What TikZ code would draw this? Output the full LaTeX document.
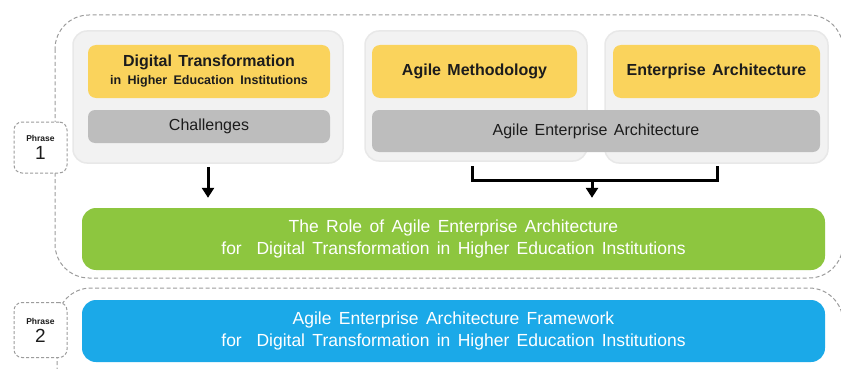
\documentclass[tikz,border=0pt]{standalone}
\usepackage{fontspec}
\setmainfont{Liberation Sans}
\usetikzlibrary{arrows.meta,calc}
\definecolor{ylw}{HTML}{FAD35C}
\definecolor{gry}{HTML}{BDBDBD}
\definecolor{grn}{HTML}{8DC63F}
\definecolor{blu}{HTML}{1BA9E8}
\definecolor{pnl}{HTML}{F2F2F2}
\definecolor{pnledge}{HTML}{E8E8E8}
\definecolor{dsh}{HTML}{9C9C9C}
\definecolor{txt}{HTML}{1C1C1C}
\newcommand\wordsp[1]{\spaceskip=#1em\relax}
\begin{document}
\begin{tikzpicture}[x=1pt,y=-1pt,
  panel/.style={fill=pnl,draw=pnledge,line width=1.5pt,rounded corners=14pt,inner sep=0pt},
  ybox/.style={fill=ylw,rounded corners=8pt,inner sep=0pt,minimum height=53pt,align=center,text=txt,
    font=\fontsize{16}{20}\selectfont\bfseries\wordsp{0.4}},
  gbox/.style={fill=gry,rounded corners=7pt,inner sep=0pt,align=center,text=txt,
    font=\fontsize{16}{19}\selectfont\wordsp{0.4}},
  bigbox/.style={rounded corners=14pt,inner sep=0pt,minimum width=743pt,minimum height=62pt,align=center,text=white,
    font=\fontsize{17.5}{22}\selectfont\wordsp{0.42}},
  phasebox/.style={fill=white,draw=dsh,dash pattern=on 3pt off 2pt,line width=1pt,rounded corners=8pt,
    minimum width=53pt,inner sep=0pt,align=center,text=txt,font=\fontsize{19}{18}\selectfont},
  region/.style={draw=dsh,line width=1pt,dash pattern=on 4pt off 2.5pt,rounded corners=34pt},
  arr/.style={line width=3pt,-{Triangle[length=10pt,width=12pt]}},
  brk/.style={line width=3pt}
]
\useasboundingbox (0,0) rectangle (841,369);
\clip (0,0) rectangle (841,369);
\fill[white] (0,0) rectangle (841,369);

% dashed phase regions
\draw[region] (55,15) rectangle (843,278);
\draw[region] (57,288) rectangle (843,420);

% phase labels
\node[phasebox,minimum height=51pt] (ph1) at (40.5,147.5)
  {{\fontsize{8.5}{10}\selectfont\bfseries Phrase}\\1};
\node[phasebox,minimum height=55pt] (ph2) at (40.5,330)
  {{\fontsize{8.5}{10}\selectfont\bfseries Phrase}\\2};

% light panels
\node[panel,minimum width=270pt,minimum height=132pt] (lp) at (208,97) {};
\node[panel,minimum width=222pt,minimum height=130pt] (mp) at (476,96) {};
\node[panel,minimum width=223pt,minimum height=132pt] (rp) at (716.5,97) {};

% yellow boxes
\node[ybox,minimum width=242pt] (dt) at (209,71.5)
  {Digital Transformation\\[-2pt]{\fontsize{12.5}{15}\selectfont in Higher Education Institutions}};
\node[ybox,minimum width=205pt] (am) at (474.5,71.5) {Agile Methodology};
\node[ybox,minimum width=207pt] (ea) at (716.5,71.5) {Enterprise Architecture};

% gray boxes
\node[gbox,minimum width=242pt,minimum height=33pt] (ch) at (209,126.5) {Challenges};
\node[gbox,minimum width=448pt,minimum height=42pt] (aea) at (596,131) {Agile Enterprise Architecture};

% big boxes
\node[bigbox,fill=grn] (role) at (453.5,239)
  {The Role of Agile Enterprise Architecture\\for\ \ Digital Transformation in Higher Education Institutions};
\node[bigbox,fill=blu] (fw) at (453.5,331)
  {Agile Enterprise Architecture Framework\\for\ \ Digital Transformation in Higher Education Institutions};

% arrows
\draw[arr,shorten <=3pt,shorten >=10pt] (lp.south) -- (lp.south |- role.north);

\coordinate (bl) at ($(aea.south west)+(101pt,-14pt)$);
\coordinate (br) at ($(aea.south west)+(346pt,-14pt)$);
\coordinate (bm) at ($(aea.south)+(-4pt,-28pt)$);
\draw[brk] (bl) -- ++(0,14) -| (br);
\draw[arr,shorten >=10pt] ($(bm)+(0,-0.5)$) -- (bm |- role.north);
\end{tikzpicture}
\end{document}
